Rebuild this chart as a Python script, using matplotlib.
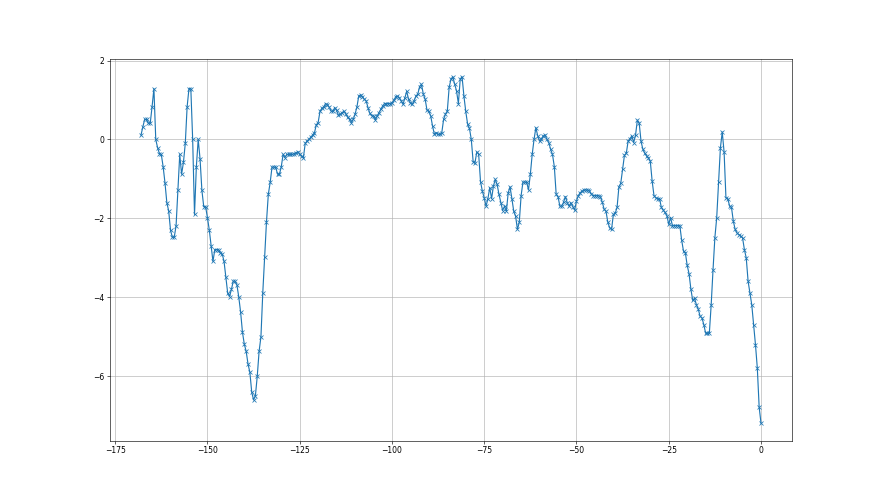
import numpy as np
import matplotlib
matplotlib.use("Agg")
import matplotlib.pyplot as plt

# x positions: every half unit from -168 to 0
x_start, x_stop, x_step = -168, 0, 0.5

seg1 = [0.11, 0.32, 0.51, 0.51, 0.41, 0.41, 0.83, 1.29, 0.00, -0.21,
        -0.36, -0.38, -0.69, -1.10, -1.60, -1.81, -2.30, -2.48, -2.48, -2.19,
        -1.29, -0.38, -0.88, -0.58, -0.10, 0.83, 1.29, 1.29, 0.00, -1.90,
        -0.69, 0.00, -0.49, -1.29, -1.70, -1.70, -1.98, -2.29, -2.70, -3.09]
seg2 = [-2.79, -2.79, -2.79, -2.88, -2.90, -3.09, -3.49, -3.90, -3.98, -3.80,
        -3.59, -3.59, -3.69, -4.00, -4.38, -4.89, -5.19, -5.37, -5.69, -5.90,
        -6.40, -6.60, -6.49, -6.00, -5.37, -5.00, -3.88, -2.98, -2.09, -1.39,
        -1.09, -0.70, -0.70, -0.70, -0.88, -0.88, -0.70, -0.38, -0.46, -0.38]
seg3 = [-0.38, -0.38, -0.38, -0.36, -0.34, -0.31, -0.38, -0.42, -0.46, -0.10,
        -0.04, 0.00, 0.06, 0.11, 0.17, 0.37, 0.43, 0.71, 0.79, 0.82,
        0.91, 0.88, 0.82, 0.72, 0.71, 0.81, 0.74, 0.61, 0.64, 0.68,
        0.72, 0.64, 0.56, 0.51, 0.43, 0.51, 0.64, 0.82, 1.10, 1.13]
seg4 = [1.08, 1.02, 0.98, 0.81, 0.66, 0.60, 0.60, 0.50, 0.60, 0.68,
        0.77, 0.85, 0.91, 0.91, 0.91, 0.91, 0.93, 0.99, 1.08, 1.10,
        1.06, 0.98, 0.89, 1.06, 1.22, 1.02, 0.93, 0.89, 0.98, 1.10,
        1.15, 1.34, 1.40, 1.15, 1.02, 0.74, 0.71, 0.60, 0.34, 0.13]
seg5 = [0.17, 0.13, 0.13, 0.17, 0.51, 0.64, 0.72, 1.32, 1.53, 1.59,
        1.40, 1.23, 0.91, 1.53, 1.59, 1.10, 0.71, 0.39, 0.28, 0.00,
        -0.56, -0.59, -0.31, -0.38, -1.07, -1.31, -1.48, -1.69, -1.50, -1.22,
        -1.50, -1.18, -1.01, -1.14, -1.39, -1.60, -1.80, -1.69, -1.82, -1.35]
seg6 = [-1.20, -1.50, -1.82, -1.94, -2.28, -2.10, -1.42, -1.08, -1.08, -1.08,
        -1.28, -0.88, -0.38, 0.00, 0.30, 0.09, -0.04, 0.02, 0.09, 0.11,
        0.00, -0.08, -0.25, -0.38, -0.69, -1.39, -1.45, -1.69, -1.69, -1.59,
        -1.45, -1.60, -1.69, -1.60, -1.70, -1.79, -1.56, -1.42, -1.35, -1.31]
seg7 = [-1.28, -1.28, -1.28, -1.30, -1.38, -1.42, -1.42, -1.42, -1.42, -1.46,
        -1.59, -1.77, -1.82, -2.10, -2.24, -2.28, -1.90, -1.87, -1.72, -1.20,
        -1.11, -0.75, -0.40, -0.35, -0.04, 0.02, 0.09, -0.08, 0.11, 0.49,
        0.41, -0.05, -0.25, -0.35, -0.42, -0.47, -0.55, -1.05, -1.42, -1.48]
seg8 = [-1.50, -1.50, -1.72, -1.79, -1.85, -1.93, -2.15, -1.98, -2.18, -2.18,
        -2.18, -2.18, -2.18, -2.55, -2.83, -2.87, -3.19, -3.40, -3.79, -4.08,
        -4.02, -4.19, -4.30, -4.48, -4.52, -4.69, -4.91, -4.91, -4.91, -4.19,
        -3.30, -2.49, -1.98, -1.08, -0.21, 0.19, -0.32, -1.48, -1.50, -1.69]
seg9 = [-1.72, -2.07, -2.28, -2.37, -2.41, -2.45, -2.49, -2.79, -3.00, -3.59,
        -3.89, -4.19, -4.69, -5.20, -5.79, -6.78, -7.19]

y = np.array(seg1 + seg2 + seg3 + seg4 + seg5 + seg6 + seg7 + seg8 + seg9)
x = np.arange(x_start, x_stop + x_step / 2, x_step)
n = min(len(x), len(y))
x, y = x[:n], y[:n]

fig, ax = plt.subplots(figsize=(16, 9), dpi=55)
ax.plot(x, y, marker='x', color='tab:blue')
ax.grid(True)
fig.savefig("out.png", dpi=55)
